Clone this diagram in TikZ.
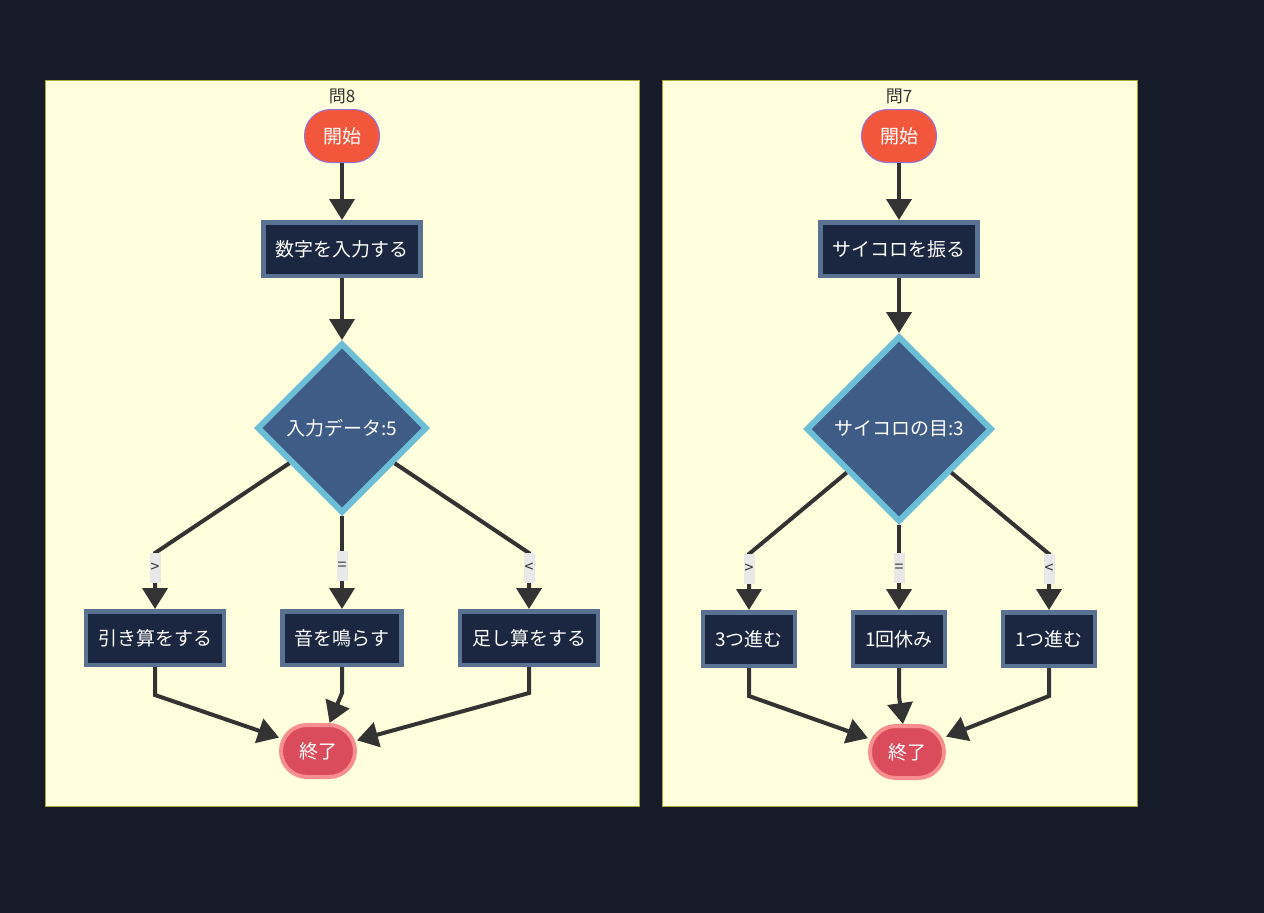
\documentclass[tikz,border=0pt]{standalone}
\usepackage{fontspec}
\setmainfont{Noto Sans CJK JP}
\usepackage{xcolor}
\usepackage{tikz}
\usetikzlibrary{arrows.meta,positioning,shapes.geometric,calc}
\definecolor{FlowInk}{HTML}{151B28}
\definecolor{FlowPaper}{HTML}{FFFFDE}
\definecolor{FlowRim}{HTML}{AAAA33}
\definecolor{FlowDark}{HTML}{333333}
\definecolor{FlowBox}{HTML}{1B2740}
\definecolor{FlowBoxLine}{HTML}{5A7291}
\definecolor{FlowDia}{HTML}{3F5C86}
\definecolor{FlowDiaLine}{HTML}{6CBED7}
\definecolor{FlowStart}{HTML}{F2573B}
\definecolor{FlowStartLine}{HTML}{9370DB}
\definecolor{FlowEnd}{HTML}{DA4C5B}
\definecolor{FlowEndLine}{HTML}{F98E8E}
\definecolor{FlowTag}{HTML}{E8E8E8}
\tikzset{
  panel/.style={draw=FlowRim,fill=FlowPaper,line width=1pt},
  heading/.style={text=FlowDark,font=\fontsize{17}{19}\selectfont,inner sep=0pt},
  term/.style={rectangle,rounded corners=26pt,text=white,align=center,
    font=\fontsize{19}{21}\selectfont,minimum height=52pt},
  opening/.style={term,fill=FlowStart,draw=FlowStartLine,line width=1pt,
    minimum width=75pt,minimum height=53pt},
  closing/.style={term,fill=FlowEnd,draw=FlowEndLine,line width=4pt,minimum width=74pt},
  proc/.style={rectangle,fill=FlowBox,draw=FlowBoxLine,line width=4.5pt,text=white,
    font=\fontsize{19}{21}\selectfont,minimum height=53.5pt,inner xsep=12pt},
  choice/.style={diamond,fill=FlowDia,draw=FlowDiaLine,line width=6pt,text=white,
    font=\fontsize{19}{21}\selectfont,inner sep=0pt},
  tag/.style={fill=FlowTag,text=FlowDark,font=\fontsize{16}{18}\selectfont,
    inner xsep=1pt,inner ysep=0pt,minimum height=30pt,minimum width=11pt},
  flow/.style={-{Triangle[length=21pt,width=25pt]},line width=4pt,draw=FlowDark}
}
\begin{document}
\begin{tikzpicture}[x=1pt,y=1pt,node distance=55pt]
  \fill[FlowInk] (0,0) rectangle (1264,-913);
  \useasboundingbox (0,0) rectangle (1264,-913);
  % 問8
  \draw[panel] (45,-80) rectangle (639,-806);
  \node[heading] (headA) at (342,-96) {問8};
  \node[opening] (begA) at (342,-136) {開始};
  \node[proc,below=57pt of begA] (input) {数字を入力する};
  \node[choice,minimum size=170pt,below=62pt of input] (check) {入力データ:5};
  \node[proc,below=93pt of check] (beep) {音を鳴らす};
  \node[proc,below=93pt of check,xshift=-187pt] (minus) {引き算をする};
  \node[proc,below=93pt of check,xshift=187pt] (plus) {足し算をする};
  \node[closing,below=56pt of beep,xshift=-24pt] (finA) {終了};
  \draw[flow] (begA)--(input); \draw[flow] (input)--(check);
  \draw[flow] (check)--($(minus.north)+(0,56)$)--node[tag,pos=0.27]{>}(minus);
  \draw[flow] (check)--node[tag,pos=0.54]{=}(beep);
  \draw[flow] (check)--($(plus.north)+(0,56)$)--node[tag,pos=0.27]{<}(plus);
  \draw[flow] (minus)--($(minus.south)+(0,-28)$)--(finA);
  \draw[flow] (beep)--($(beep.south)+(0,-26)$)--(finA);
  \draw[flow] (plus)--($(plus.south)+(0,-26)$)--(finA);
  % 問7
  \draw[panel] (662,-80) rectangle (1137,-806);
  \node[heading] (headB) at (899,-96) {問7};
  \node[opening] (begB) at (899,-136) {開始};
  \node[proc,below=57pt of begB] (roll) {サイコロを振る};
  \node[choice,minimum size=186pt,below=55pt of roll] (dice) {サイコロの目:3};
  \node[proc,below=85pt of dice] (rest) {1回休み};
  \node[proc,below=85pt of dice,xshift=-150pt] (three) {3つ進む};
  \node[proc,below=85pt of dice,xshift=150pt] (one) {1つ進む};
  \node[closing,below=56pt of rest,xshift=8pt] (finB) {終了};
  \draw[flow] (begB)--(roll); \draw[flow] (roll)--(dice);
  \draw[flow] (dice)--($(three.north)+(0,56)$)--node[tag,pos=0.27]{>}(three);
  \draw[flow] (dice)--node[tag,pos=0.51]{=}(rest);
  \draw[flow] (dice)--($(one.north)+(0,56)$)--node[tag,pos=0.27]{<}(one);
  \draw[flow] (three)--($(three.south)+(0,-28)$)--(finB);
  \draw[flow] (rest)--($(rest.south)+(0,-28)$)--(finB);
  \draw[flow] (one)--($(one.south)+(0,-28)$)--(finB);
\end{tikzpicture}
\end{document}
